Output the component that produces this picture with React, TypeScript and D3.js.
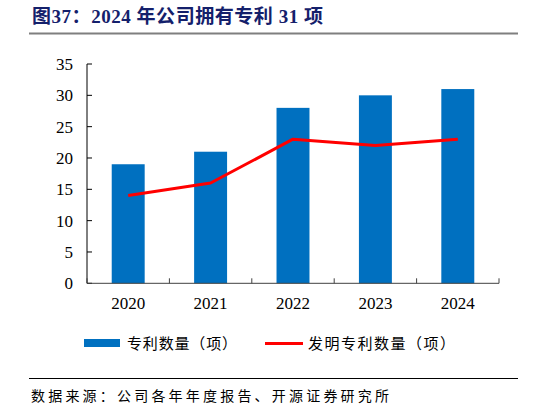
import * as d3 from "d3"

// chart data
const years = ["2020", "2021", "2022", "2023", "2024"]
const patents = [19, 21, 28, 30, 31]
const inventionPatents = [14, 16, 23, 22, 23]
const yTicks = [0, 5, 10, 15, 20, 25, 30, 35]

const titleText = "图37：2024 年公司拥有专利 31 项"
const legendBar = "专利数量（项）"
const legendLine = "发明专利数量（项）"
const sourceText = "数据来源：公司各年年度报告、开源证券研究所"

const W = 546
const H = 408
const plot = { left: 87, right: 499, top: 64, bottom: 283.3 }

const serif = "'Liberation Serif', 'Times New Roman', serif"
const cjk = "'Liberation Serif', 'Noto Sans CJK SC', serif"

export default function App() {
  const x = d3.scaleBand().domain(years).range([plot.left, plot.right]).paddingInner(0).paddingOuter(0)
  const y = d3.scaleLinear().domain([0, 35]).range([plot.bottom, plot.top])
  const barW = x.bandwidth() * 0.4
  const cx = (d: string) => (x(d) as number) + x.bandwidth() / 2

  const line = d3
    .line<number>()
    .x((_, i) => cx(years[i]))
    .y((d) => y(d))

  const boundaries = d3.range(years.length + 1).map((i) => plot.left + i * x.bandwidth())

  return (
    <div style={{ position: "fixed", left: 0, top: 0 }}>
      <svg width={W} height={H} style={{ display: "block", background: "#fff" }}>
        {/* title */}
        <text
          x={32}
          y={23}
          fontFamily={cjk}
          fontWeight="bold"
          fontSize={19}
          fill="#14206b"
          textLength={291}
          lengthAdjust="spacing"
        >
          {titleText}
        </text>
        <line x1={29} x2={518} y1={33.5} y2={33.5} stroke="#7f7f7f" strokeWidth={2} />

        {/* bars */}
        {years.map((yr, i) => (
          <rect
            key={yr}
            x={cx(yr) - barW / 2}
            y={y(patents[i])}
            width={barW}
            height={plot.bottom - y(patents[i])}
            fill="#0070c0"
          />
        ))}

        {/* line */}
        <path d={line(inventionPatents) as string} fill="none" stroke="#ff0000" strokeWidth={3} strokeLinejoin="round" />

        {/* y axis */}
        <line x1={plot.left} x2={plot.left} y1={plot.top} y2={plot.bottom} stroke="#000" />
        {yTicks.map((t) => (
          <g key={t}>
            <line x1={plot.left} x2={plot.left + 5} y1={y(t)} y2={y(t)} stroke="#000" />
            <text
              x={73}
              y={y(t)}
              dy="0.35em"
              textAnchor="end"
              fontFamily={serif}
              fontSize={17}
              fill="#000"
            >
              {t}
            </text>
          </g>
        ))}

        {/* x axis */}
        <line x1={plot.left} x2={plot.right} y1={plot.bottom} y2={plot.bottom} stroke="#404040" />
        {boundaries.map((bx, i) => (
          <line key={i} x1={bx} x2={bx} y1={plot.bottom} y2={plot.bottom - 5} stroke="#404040" />
        ))}
        {years.map((yr) => (
          <text key={yr} x={cx(yr)} y={309} textAnchor="middle" fontFamily={serif} fontSize={17} fill="#000">
            {yr}
          </text>
        ))}

        {/* legend */}
        <rect x={84} y={339} width={36} height={8} fill="#0070c0" />
        <text x={127} y={349} fontFamily={cjk} fontSize={15} fill="#000" textLength={110} lengthAdjust="spacing">
          {legendBar}
        </text>
        <line x1={265} x2={303} y1={343.5} y2={343.5} stroke="#ff0000" strokeWidth={3} />
        <text x={308} y={349} fontFamily={cjk} fontSize={15} fill="#000" textLength={147} lengthAdjust="spacing">
          {legendLine}
        </text>

        {/* source */}
        <line x1={29} x2={518} y1={378.5} y2={378.5} stroke="#000" strokeWidth={1} />
        <text x={31} y={401} fontFamily={cjk} fontSize={14} fill="#000" textLength={358} lengthAdjust="spacing">
          {sourceText}
        </text>
      </svg>
    </div>
  )
}
